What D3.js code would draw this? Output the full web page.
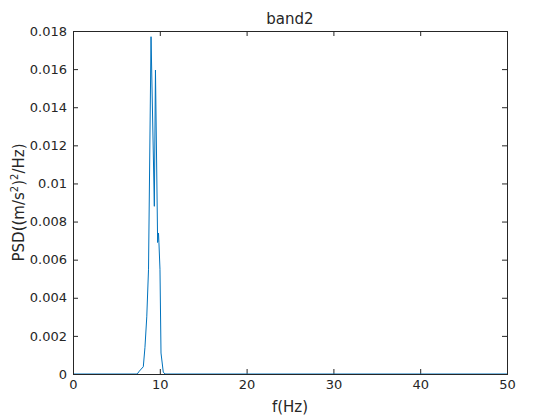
<!DOCTYPE html>
<html>
<head>
<meta charset="utf-8">
<script src="https://cdn.jsdelivr.net/npm/d3@7.9.0/dist/d3.min.js"></script>
<style>
  body { margin: 0; background: #fff; }
  svg text { font-family: "DejaVu Sans", sans-serif; fill: #262626; }
</style>
</head>
<body>
<svg id="chart" width="560" height="420"></svg>
<script>
// ---- data ----
const freq = [0, 7.4, 7.64, 8.1, 8.29, 8.5, 8.7, 8.99, 9.37, 9.5, 9.75, 9.85, 9.9, 10.02, 10.14, 10.4, 10.6, 50];
const psd  = [0, 0, 0.00015, 0.00038, 0.0014, 0.003, 0.0055, 0.0177, 0.0088, 0.01595, 0.0069, 0.0074, 0.0069, 0.0055, 0.0011, 0.0001, 0, 0];
const xTicks = [0, 10, 20, 30, 40, 50];
const yTicks = [0, 0.002, 0.004, 0.006, 0.008, 0.01, 0.012, 0.014, 0.016, 0.018];

const svg = d3.select("#chart");
const margin = { top: 31, right: 53, bottom: 46, left: 73 };
const W = 560, H = 420;
const innerW = W - margin.left - margin.right;
const innerH = H - margin.top - margin.bottom;
const g = svg.append("g").attr("transform", `translate(${margin.left},${margin.top})`);

const x = d3.scaleLinear().domain([0, 50]).range([0, innerW]);
const y = d3.scaleLinear().domain([0, 0.018]).range([innerH, 0]);

const axisColor = "#262626";
const tick = 5;

function styleAxis(sel) {
  sel.select(".domain").remove();
  sel.selectAll("line").attr("stroke", axisColor);
  sel.selectAll("text").style("font-size", "13px").attr("fill", axisColor);
}

// bottom / left axes with inward ticks
g.append("g").attr("transform", `translate(0,${innerH})`)
  .call(d3.axisBottom(x).tickValues(xTicks).tickSize(-tick).tickPadding(6).tickFormat(d3.format("d")))
  .call(styleAxis);
g.append("g")
  .call(d3.axisLeft(y).tickValues(yTicks).tickSize(-tick).tickPadding(6).tickFormat(d => d === 0 ? "0" : String(+d.toFixed(3))))
  .call(styleAxis);
// top / right tick marks only
g.append("g")
  .call(d3.axisTop(x).tickValues(xTicks).tickSize(-tick).tickFormat(""))
  .call(styleAxis);
g.append("g").attr("transform", `translate(${innerW},0)`)
  .call(d3.axisRight(y).tickValues(yTicks).tickSize(-tick).tickFormat(""))
  .call(styleAxis);

// the PSD line
const pts = freq.map((f, i) => [f, psd[i]]);
g.append("path")
  .datum(pts)
  .attr("fill", "none")
  .attr("stroke", "#0072BD")
  .attr("stroke-width", 1)
  .attr("d", d3.line().x(d => x(d[0])).y(d => y(d[1])));

// box
g.append("rect")
  .attr("width", innerW).attr("height", innerH)
  .attr("fill", "none").attr("stroke", axisColor).attr("stroke-width", 1)
  .attr("shape-rendering", "crispEdges");

// title and labels
svg.append("text")
  .attr("x", margin.left + innerW / 2).attr("y", 24)
  .attr("text-anchor", "middle").style("font-size", "15px")
  .text("band2");

svg.append("text")
  .attr("x", margin.left + innerW / 2).attr("y", 412)
  .attr("text-anchor", "middle").style("font-size", "15px")
  .text("f(Hz)");

const yl = svg.append("text")
  .attr("transform", `translate(24,${margin.top + innerH / 2}) rotate(-90)`)
  .attr("text-anchor", "middle").style("font-size", "15px");
yl.append("tspan").text("PSD((m/s");
yl.append("tspan").attr("dy", -6).style("font-size", "10px").text("2");
yl.append("tspan").attr("dy", 6).text(")");
yl.append("tspan").attr("dy", -6).style("font-size", "10px").text("2");
yl.append("tspan").attr("dy", 6).text("/Hz)");
</script>
</body>
</html>
